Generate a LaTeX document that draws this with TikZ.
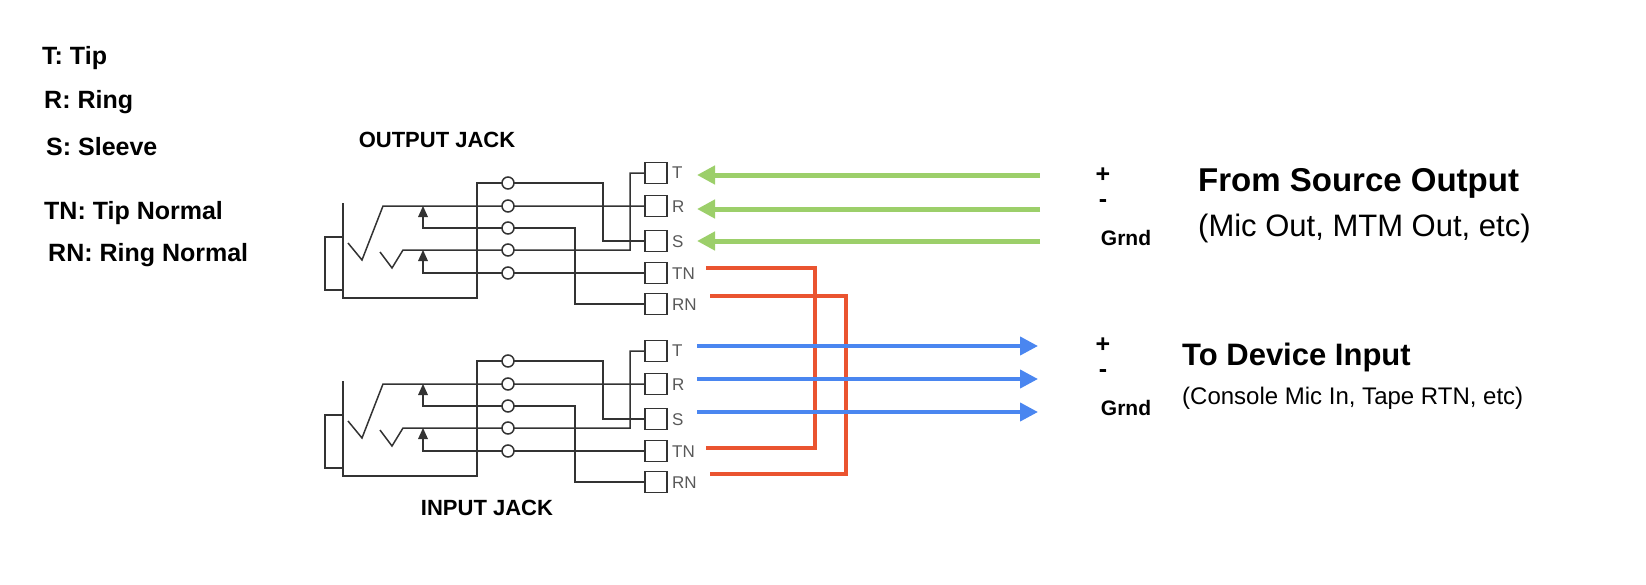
\documentclass[tikz,border=0pt]{standalone}
\usepackage{fontspec}
\setmainfont{Liberation Sans}
\usetikzlibrary{arrows.meta}
\definecolor{wire}{HTML}{333333}
\definecolor{grn}{HTML}{9CCF6A}
\definecolor{redw}{HTML}{EA5430}
\definecolor{blu}{HTML}{4A86F0}
\tikzset{
  w/.style={draw=wire,line width=1.5pt},
  term/.style={draw=wire,line width=1.5pt,minimum width=22pt,minimum height=21pt,inner sep=0pt},
  tlab/.style={anchor=west,text=black!65,font=\fontsize{17}{17}\selectfont,inner sep=0pt},
  ring/.style={circle,draw=wire,fill=white,line width=1.5pt,minimum size=12pt,inner sep=0pt},
  leg/.style={anchor=west,font=\fontsize{25}{25}\selectfont\bfseries,inner sep=0pt},
  pm/.style={font=\fontsize{25}{25}\selectfont\bfseries,inner sep=0pt},
  gr/.style={font=\fontsize{21}{21}\selectfont\bfseries,inner sep=0pt},
  garr/.style={draw=grn,line width=5pt,-{Triangle[width=18pt,length=18pt]}},
  barr/.style={draw=blu,line width=4pt,-{Triangle[width=18pt,length=18pt]}},
  rw/.style={draw=redw,line width=4.5pt},
  diode/.style={fill=wire,draw=none}
}
\newcommand\myjack[2]{%
\begin{scope}[shift={(0,#2)}]
  \node[term] (#1T) at (656,173) {};
  \node[term] (#1R) at (656,206) {};
  \node[term] (#1S) at (656,241) {};
  \node[term] (#1TN) at (656,273) {};
  \node[term] (#1RN) at (656,304) {};
  \node[tlab] at (672,173) {T};
  \node[tlab] at (672,207) {R};
  \node[tlab] at (672,242) {S};
  \node[tlab] at (672,274) {TN};
  \node[tlab] at (672,305) {RN};
  \draw[w] (343,203) -- (343,298) -- (477,298) -- (477,183) -- (603,183) -- (603,241) -- (#1S.west);
  \draw[w] (325,237) rectangle (343,290);
  \draw[w] (348,243) -- (362,260) -- (383,206) -- (#1R.west);
  \draw[w] (380,252) -- (392,268) -- (403,250) -- (630,250) -- (630,173) -- (#1T.west);
  \draw[w] (423,212) -- (423,228) -- (575,228) -- (575,304) -- (#1RN.west);
  \draw[w] (423,256) -- (423,273) -- (#1TN.west);
  \fill[diode] (423,206) -- (428,217) -- (418,217) -- cycle;
  \fill[diode] (423,250) -- (428,261) -- (418,261) -- cycle;
  \foreach \yy/\nn in {183/a,206/b,228/c,250/d,273/e} \node[ring] (#1c\nn) at (508,\yy) {};
\end{scope}}
\begin{document}
\begin{tikzpicture}[x=1pt,y=-1pt]
\useasboundingbox (0,0) rectangle (1646,584);
\node[leg] (l1) at (42,58) {T: Tip};
\node[leg] (l2) at (44,102) {R: Ring};
\node[leg] (l3) at (46,147) {S: Sleeve};
\node[leg] (l4) at (44,213) {TN: Tip Normal};
\node[leg] (l5) at (48,255) {RN: Ring Normal};
\node[font=\fontsize{22}{22}\selectfont\bfseries] (oj) at (437,140) {OUTPUT JACK};
\node[font=\fontsize{22}{22}\selectfont\bfseries] (ij) at (487,508) {INPUT JACK};
\myjack{o}{0}
\myjack{i}{178}
\draw[rw] (706,268) -- (815,268) -- (815,448) -- (706,448);
\draw[rw] (710,296) -- (846,296) -- (846,474) -- (710,474);
\coordinate (g1) at (1040,175); \coordinate (g2) at (1040,209); \coordinate (g3) at (1040,241);
\draw[garr] (g1) -- (697,175);
\draw[garr] (g2) -- (697,209);
\draw[garr] (g3) -- (697,241);
\coordinate (b1) at (1038,346); \coordinate (b2) at (1038,379); \coordinate (b3) at (1038,412);
\draw[barr] (697,346) -- (b1);
\draw[barr] (697,379) -- (b2);
\draw[barr] (697,412) -- (b3);
\node[pm] (p1) at (1103,175) {+};
\node[pm] (m1) at (1103,204) {-};
\node[gr] (gr1) at (1126,238) {Grnd};
\node[pm] (p2) at (1103,345) {+};
\node[pm] (m2) at (1103,374) {-};
\node[gr] (gr2) at (1126,408) {Grnd};
\node[anchor=west,inner sep=0pt,font=\fontsize{33}{33}\selectfont\bfseries] (fs) at (1198,183) {From Source Output};
\node[anchor=west,inner sep=0pt,font=\fontsize{31}{31}\selectfont] (fs2) at (1198,228) {(Mic Out, MTM Out, etc)};
\node[anchor=west,inner sep=0pt,font=\fontsize{31}{31}\selectfont\bfseries] (td) at (1182,357) {To Device Input};
\node[anchor=west,inner sep=0pt,font=\fontsize{24}{24}\selectfont] (td2) at (1182,398) {(Console Mic In, Tape RTN, etc)};
\end{tikzpicture}
\end{document}
